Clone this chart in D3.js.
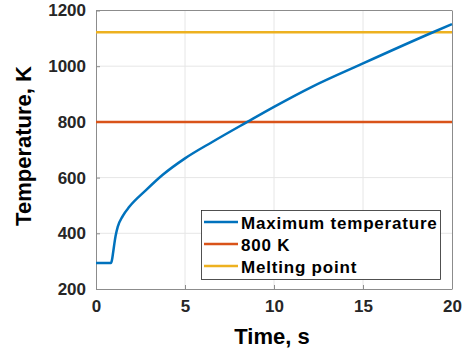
<!DOCTYPE html>
<html><head><meta charset="utf-8">
<script src="https://cdn.jsdelivr.net/npm/d3@7"></script>
<style>body{margin:0;background:#fff}svg{display:block}</style>
</head><body>
<script>
const timeS = [0,0.5,0.84,0.9,0.96,1.03,1.1,1.22,1.5,1.87,2.81,3.75,5,6.53,8.5,10,12.13,15,18.9,20];
const maxTemp = [293,293,293,305,330,362,390,423,462,495,555,610,669,728,800,854,926,1010,1121,1151];
const threshold = 800;
const meltingPoint = 1122;
const xTicks = [0,5,10,15,20];
const yTicks = [200,400,600,800,1000,1200];
const legendLabels = ["Maximum temperature","800 K","Melting point"];
const colors = ["#0072BD","#D95319","#EDB120"];

const W=463,H=354, L=96,R=452,T=10.5,B=289;
const svg=d3.select("body").append("svg").attr("width",W).attr("height",H);
const x=d3.scaleLinear().domain([0,20]).range([L,R]);
const y=d3.scaleLinear().domain([200,1200]).range([B,T]);

// grid
svg.append("g").selectAll("line").data(xTicks.slice(1,-1)).join("line")
 .attr("x1",d=>x(d)).attr("x2",d=>x(d)).attr("y1",T).attr("y2",B).attr("stroke","#e6e6e6");
svg.append("g").selectAll("line").data(yTicks.slice(1,-1)).join("line")
 .attr("y1",d=>y(d)).attr("y2",d=>y(d)).attr("x1",L).attr("x2",R).attr("stroke","#e6e6e6");

const fontT="'Liberation Sans',Arial,sans-serif";
const fmt=d3.format("d");
const xa=svg.append("g").attr("transform",`translate(0,${B})`).call(d3.axisBottom(x).tickValues(xTicks).tickFormat(fmt).tickSizeInner(-4).tickSizeOuter(0).tickPadding(11));
const ya=svg.append("g").attr("transform",`translate(${L},0)`).call(d3.axisLeft(y).tickValues(yTicks).tickFormat(fmt).tickSizeInner(-4).tickSizeOuter(0).tickPadding(10));
[xa,ya].forEach(a=>{a.select(".domain").attr("stroke","#8c8c8c");a.selectAll(".tick line").attr("stroke","#8c8c8c");
 a.selectAll("text").attr("font-family",fontT).attr("font-weight","bold").attr("font-size",17).attr("fill","#262626");});
// box top/right
svg.append("line").attr("x1",L).attr("x2",R).attr("y1",T).attr("y2",T).attr("stroke","#8c8c8c");
svg.append("line").attr("x1",R+0.5).attr("x2",R+0.5).attr("y1",T).attr("y2",B).attr("stroke","#8c8c8c");

const g=svg.append("g");
g.append("line").attr("x1",x(0)).attr("x2",x(20)).attr("y1",y(threshold)).attr("y2",y(threshold)).attr("stroke",colors[1]).attr("stroke-width",2.5);
g.append("line").attr("x1",x(0)).attr("x2",x(20)).attr("y1",y(meltingPoint)).attr("y2",y(meltingPoint)).attr("stroke",colors[2]).attr("stroke-width",2.5);
g.append("path").datum(timeS.map((t,i)=>[t,maxTemp[i]])).attr("fill","none").attr("stroke",colors[0]).attr("stroke-width",2.5)
 .attr("stroke-linejoin","round")
 .attr("d",d3.line().x(d=>x(d[0])).y(d=>y(d[1])).curve(d3.curveMonotoneX));

// labels
svg.append("text").attr("x",272).attr("y",344).attr("text-anchor","middle").attr("font-family",fontT).attr("font-weight","bold").attr("font-size",22).text("Time, s");
svg.append("text").attr("transform",`translate(31,146) rotate(-90)`).attr("text-anchor","middle").attr("font-family",fontT).attr("font-weight","bold").attr("font-size",22).text("Temperature, K");

// legend
const lg=svg.append("g");
lg.append("rect").attr("x",201.5).attr("y",210.5).attr("width",239).attr("height",69).attr("fill","#fff").attr("stroke","#262626").attr("stroke-width",0.8);
legendLabels.forEach((s,i)=>{
  const yy=222+i*22;
  lg.append("line").attr("x1",204).attr("x2",238).attr("y1",yy).attr("y2",yy).attr("stroke",colors[i]).attr("stroke-width",2.5);
  lg.append("text").attr("x",241).attr("y",yy+6.5).attr("font-family",fontT).attr("font-weight","bold").attr("font-size",17).attr("letter-spacing",0.8).attr("fill","#000").text(s);
});
</script>
</body></html>
